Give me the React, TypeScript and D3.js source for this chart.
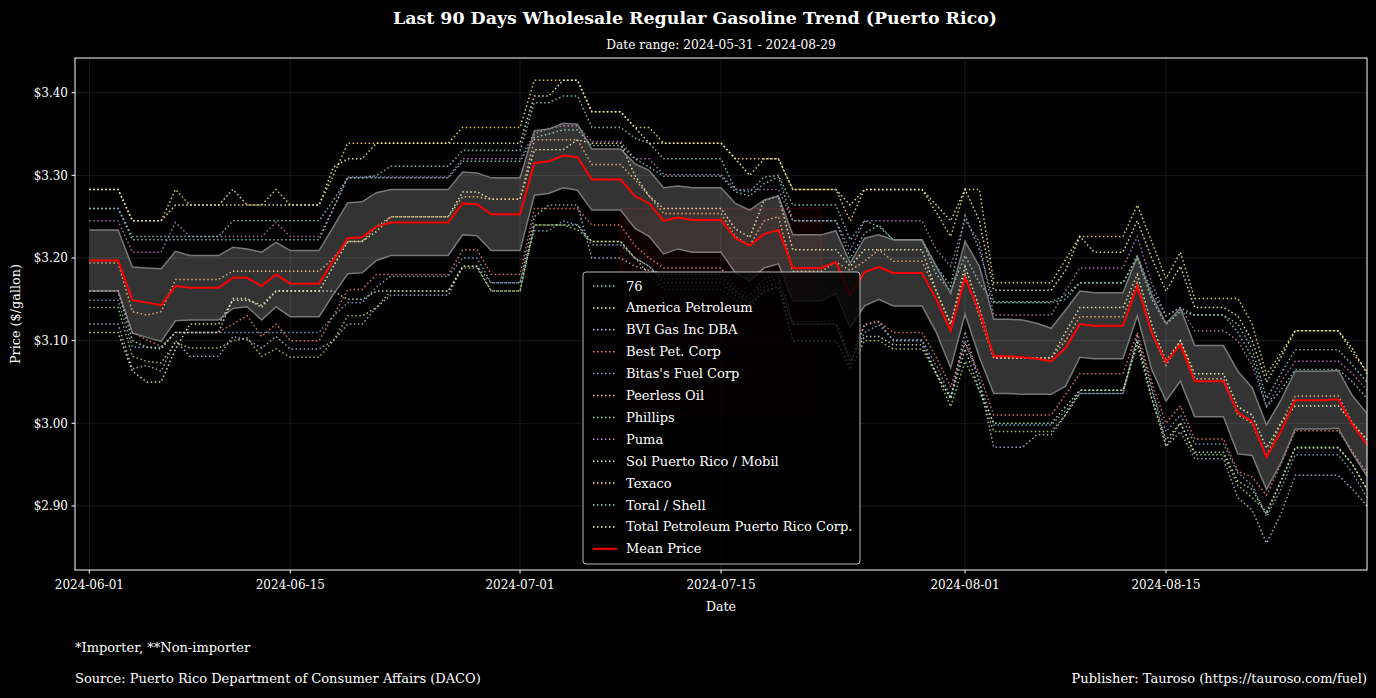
import * as d3 from 'd3';
import React from 'react';

// daily observations, 2024-06-01 .. 2024-08-29 (90 days)
const firstDay = '2024-06-01';
const endDay = '2024-08-30';
const xDomain = ['2024-05-31', '2024-08-29'];
const xTickLabels = ['2024-06-01', '2024-06-15', '2024-07-01', '2024-07-15', '2024-08-01', '2024-08-15'];
const yTicks = [2.9, 3.0, 3.1, 3.2, 3.3, 3.4];

// faint red box drawn behind the legend
const highlightDays = ['2024-07-08', '2024-07-22'];
const highlightPrices = [3.01, 3.26];

const stations = [
  '76',
  'America Petroleum',
  'BVI Gas Inc DBA',
  'Best Pet. Corp',
  "Bitas's Fuel Corp",
  'Peerless Oil',
  'Phillips',
  'Puma',
  'Sol Puerto Rico / Mobil',
  'Texaco',
  'Toral / Shell',
  'Total Petroleum Puerto Rico Corp.',
];

const palette = ['#8dd3c7', '#feffb3', '#bfbbd9', '#fa8174', '#81b1d2', '#fdb462', '#b3de69', '#bc82bd', '#ccebc4', '#ffed6f', '#8dd3c7', '#feffb3'];

const p76 = [
  3.260, 3.260, 3.260, 3.222, 3.222, 3.222, 3.222, 3.222, 3.222, 3.222, 3.222, 3.222, 3.222, 3.222, 3.222, 3.222, 3.222, 3.260, 3.297, 3.297, 3.300, 3.311, 3.311, 3.311, 3.311, 3.311, 3.330, 3.330, 3.330, 3.330,
  3.330, 3.388, 3.388, 3.396, 3.396, 3.358, 3.358, 3.358, 3.345, 3.339, 3.320, 3.320, 3.320, 3.320, 3.320, 3.283, 3.280, 3.298, 3.300, 3.264, 3.264, 3.264, 3.264, 3.222, 3.245, 3.238, 3.222, 3.222, 3.222, 3.190, 3.166,
  3.251, 3.210, 3.147, 3.147, 3.147, 3.147, 3.147, 3.155, 3.170, 3.170, 3.170, 3.170, 3.203, 3.160, 3.130, 3.140, 3.131, 3.131, 3.131, 3.120, 3.090, 3.030, 3.060, 3.089, 3.089, 3.089, 3.089, 3.070, 3.050,
];
const americaPetroleum = [
  3.110, 3.110, 3.110, 3.063, 3.050, 3.050, 3.090, 3.120, 3.120, 3.120, 3.149, 3.149, 3.143, 3.160, 3.160, 3.160, 3.160, 3.190, 3.220, 3.220, 3.232, 3.250, 3.250, 3.250, 3.250, 3.250, 3.280, 3.280, 3.271, 3.271,
  3.271, 3.331, 3.331, 3.331, 3.343, 3.339, 3.339, 3.339, 3.300, 3.275, 3.260, 3.260, 3.260, 3.260, 3.260, 3.235, 3.225, 3.270, 3.275, 3.210, 3.210, 3.210, 3.210, 3.190, 3.210, 3.210, 3.210, 3.210, 3.210, 3.160, 3.120,
  3.190, 3.140, 3.079, 3.079, 3.079, 3.079, 3.079, 3.110, 3.140, 3.140, 3.140, 3.140, 3.180, 3.120, 3.075, 3.100, 3.060, 3.060, 3.060, 3.020, 3.010, 2.970, 3.000, 3.021, 3.021, 3.021, 3.021, 3.000, 2.980,
];
const bviGas = [
  3.120, 3.120, 3.120, 3.066, 3.070, 3.063, 3.100, 3.081, 3.081, 3.081, 3.105, 3.101, 3.091, 3.105, 3.090, 3.090, 3.090, 3.100, 3.120, 3.120, 3.140, 3.155, 3.155, 3.155, 3.155, 3.155, 3.190, 3.190, 3.170, 3.170,
  3.170, 3.250, 3.264, 3.264, 3.264, 3.200, 3.200, 3.200, 3.190, 3.185, 3.180, 3.180, 3.180, 3.180, 3.180, 3.160, 3.145, 3.165, 3.170, 3.100, 3.100, 3.100, 3.100, 3.070, 3.120, 3.123, 3.100, 3.100, 3.100, 3.060, 3.030,
  3.111, 3.050, 2.971, 2.971, 2.971, 2.986, 2.986, 3.010, 3.036, 3.036, 3.036, 3.036, 3.105, 3.045, 2.972, 2.990, 2.957, 2.957, 2.957, 2.910, 2.895, 2.855, 2.890, 2.937, 2.937, 2.937, 2.937, 2.920, 2.900,
];
const bestPet = [
  3.160, 3.160, 3.160, 3.110, 3.101, 3.093, 3.110, 3.110, 3.110, 3.110, 3.120, 3.130, 3.105, 3.120, 3.100, 3.100, 3.100, 3.130, 3.162, 3.162, 3.180, 3.180, 3.180, 3.180, 3.180, 3.180, 3.210, 3.210, 3.180, 3.180,
  3.180, 3.260, 3.260, 3.260, 3.260, 3.240, 3.240, 3.240, 3.215, 3.200, 3.188, 3.188, 3.188, 3.188, 3.188, 3.165, 3.155, 3.175, 3.180, 3.123, 3.123, 3.123, 3.125, 3.080, 3.119, 3.123, 3.110, 3.110, 3.110, 3.080, 3.044,
  3.097, 3.060, 3.010, 3.010, 3.010, 3.010, 3.010, 3.035, 3.060, 3.060, 3.060, 3.060, 3.110, 3.050, 3.000, 3.021, 2.981, 2.981, 2.981, 2.942, 2.935, 2.913, 2.950, 2.991, 2.991, 2.991, 2.991, 2.965, 2.940,
];
const bitasFuel = [
  3.149, 3.149, 3.149, 3.092, 3.092, 3.092, 3.110, 3.110, 3.110, 3.110, 3.110, 3.110, 3.110, 3.110, 3.110, 3.110, 3.110, 3.130, 3.146, 3.146, 3.165, 3.178, 3.178, 3.178, 3.178, 3.178, 3.200, 3.200, 3.170, 3.170,
  3.170, 3.233, 3.233, 3.245, 3.240, 3.216, 3.216, 3.216, 3.200, 3.190, 3.175, 3.175, 3.175, 3.175, 3.175, 3.160, 3.150, 3.170, 3.175, 3.120, 3.120, 3.120, 3.120, 3.075, 3.110, 3.119, 3.101, 3.101, 3.101, 3.070, 3.032,
  3.100, 3.050, 2.998, 2.998, 2.998, 2.998, 2.998, 3.015, 3.036, 3.036, 3.036, 3.036, 3.100, 3.040, 2.990, 3.010, 2.975, 2.975, 2.975, 2.940, 2.925, 2.887, 2.920, 2.962, 2.962, 2.962, 2.962, 2.940, 2.910,
];
const peerlessOil = [
  3.194, 3.194, 3.194, 3.135, 3.131, 3.135, 3.174, 3.174, 3.174, 3.174, 3.184, 3.184, 3.184, 3.184, 3.184, 3.184, 3.184, 3.200, 3.220, 3.220, 3.238, 3.250, 3.250, 3.250, 3.250, 3.250, 3.274, 3.274, 3.271, 3.271,
  3.271, 3.343, 3.343, 3.343, 3.343, 3.313, 3.313, 3.313, 3.295, 3.275, 3.254, 3.254, 3.254, 3.254, 3.254, 3.226, 3.215, 3.245, 3.250, 3.184, 3.184, 3.184, 3.195, 3.185, 3.196, 3.210, 3.196, 3.196, 3.196, 3.160, 3.120,
  3.180, 3.130, 3.079, 3.079, 3.079, 3.079, 3.079, 3.100, 3.129, 3.129, 3.129, 3.129, 3.170, 3.110, 3.070, 3.100, 3.054, 3.054, 3.054, 3.010, 3.000, 2.960, 3.000, 3.033, 3.033, 3.033, 3.033, 3.000, 2.980,
];
const phillips = [
  3.140, 3.140, 3.140, 3.081, 3.075, 3.073, 3.098, 3.091, 3.091, 3.091, 3.100, 3.103, 3.081, 3.090, 3.080, 3.080, 3.080, 3.100, 3.130, 3.130, 3.140, 3.160, 3.160, 3.160, 3.160, 3.160, 3.188, 3.188, 3.160, 3.160,
  3.160, 3.240, 3.240, 3.240, 3.234, 3.220, 3.220, 3.220, 3.200, 3.180, 3.162, 3.162, 3.162, 3.162, 3.162, 3.150, 3.140, 3.160, 3.165, 3.100, 3.100, 3.100, 3.100, 3.065, 3.100, 3.100, 3.090, 3.090, 3.090, 3.060, 3.020,
  3.075, 3.040, 2.990, 2.990, 2.990, 2.990, 2.990, 3.010, 3.040, 3.040, 3.040, 3.040, 3.095, 3.030, 2.972, 3.001, 2.962, 2.962, 2.962, 2.925, 2.910, 2.893, 2.930, 2.971, 2.971, 2.971, 2.971, 2.950, 2.920,
];
const puma = [
  3.245, 3.245, 3.245, 3.207, 3.207, 3.207, 3.243, 3.226, 3.226, 3.226, 3.226, 3.226, 3.226, 3.243, 3.226, 3.226, 3.226, 3.260, 3.298, 3.298, 3.298, 3.298, 3.298, 3.298, 3.298, 3.298, 3.320, 3.320, 3.320, 3.320,
  3.320, 3.350, 3.357, 3.360, 3.360, 3.341, 3.341, 3.341, 3.320, 3.320, 3.301, 3.301, 3.301, 3.301, 3.301, 3.283, 3.283, 3.283, 3.283, 3.245, 3.245, 3.245, 3.245, 3.210, 3.245, 3.245, 3.245, 3.245, 3.245, 3.210, 3.190,
  3.246, 3.220, 3.131, 3.131, 3.131, 3.131, 3.131, 3.160, 3.188, 3.188, 3.188, 3.188, 3.226, 3.170, 3.130, 3.140, 3.112, 3.112, 3.112, 3.100, 3.070, 3.020, 3.050, 3.075, 3.075, 3.075, 3.075, 3.060, 3.040,
];
const solMobil = [
  3.160, 3.160, 3.160, 3.100, 3.092, 3.090, 3.110, 3.110, 3.110, 3.110, 3.151, 3.151, 3.140, 3.160, 3.160, 3.160, 3.160, 3.160, 3.150, 3.150, 3.160, 3.160, 3.160, 3.160, 3.160, 3.160, 3.190, 3.190, 3.160, 3.160,
  3.160, 3.240, 3.240, 3.240, 3.240, 3.220, 3.220, 3.220, 3.200, 3.190, 3.170, 3.170, 3.170, 3.170, 3.170, 3.155, 3.145, 3.160, 3.165, 3.120, 3.120, 3.120, 3.120, 3.075, 3.105, 3.105, 3.095, 3.095, 3.095, 3.060, 3.030,
  3.090, 3.040, 3.000, 3.000, 3.000, 3.000, 3.000, 3.020, 3.040, 3.040, 3.040, 3.040, 3.100, 3.030, 2.980, 3.000, 2.965, 2.965, 2.965, 2.930, 2.920, 2.890, 2.930, 2.970, 2.970, 2.970, 2.970, 2.950, 2.920,
];
const texaco = [
  3.283, 3.283, 3.283, 3.245, 3.245, 3.245, 3.283, 3.264, 3.264, 3.264, 3.264, 3.264, 3.264, 3.283, 3.264, 3.264, 3.264, 3.300, 3.339, 3.339, 3.339, 3.339, 3.339, 3.339, 3.339, 3.339, 3.358, 3.358, 3.358, 3.358,
  3.358, 3.415, 3.415, 3.415, 3.415, 3.377, 3.377, 3.377, 3.358, 3.358, 3.339, 3.339, 3.339, 3.339, 3.339, 3.320, 3.320, 3.320, 3.320, 3.283, 3.283, 3.283, 3.283, 3.245, 3.283, 3.283, 3.283, 3.283, 3.283, 3.255, 3.226,
  3.283, 3.283, 3.170, 3.170, 3.170, 3.170, 3.170, 3.198, 3.226, 3.226, 3.226, 3.226, 3.264, 3.220, 3.175, 3.207, 3.151, 3.151, 3.151, 3.151, 3.120, 3.059, 3.085, 3.112, 3.112, 3.112, 3.112, 3.085, 3.063,
];
const toralShell = [
  3.260, 3.260, 3.260, 3.226, 3.226, 3.226, 3.226, 3.226, 3.226, 3.226, 3.245, 3.245, 3.245, 3.245, 3.245, 3.245, 3.245, 3.270, 3.297, 3.297, 3.297, 3.297, 3.297, 3.297, 3.297, 3.297, 3.317, 3.317, 3.317, 3.317,
  3.317, 3.346, 3.350, 3.355, 3.355, 3.336, 3.336, 3.336, 3.320, 3.310, 3.299, 3.299, 3.299, 3.299, 3.299, 3.280, 3.275, 3.290, 3.298, 3.245, 3.245, 3.245, 3.245, 3.200, 3.230, 3.240, 3.222, 3.222, 3.222, 3.180, 3.160,
  3.203, 3.170, 3.146, 3.146, 3.146, 3.146, 3.146, 3.150, 3.170, 3.170, 3.170, 3.170, 3.200, 3.150, 3.120, 3.135, 3.131, 3.131, 3.131, 3.110, 3.080, 3.020, 3.040, 3.065, 3.065, 3.065, 3.065, 3.050, 3.030,
];
const totalPetroleum = [
  3.283, 3.283, 3.283, 3.245, 3.245, 3.245, 3.264, 3.264, 3.264, 3.264, 3.283, 3.264, 3.264, 3.264, 3.264, 3.264, 3.264, 3.310, 3.320, 3.320, 3.339, 3.339, 3.339, 3.339, 3.339, 3.339, 3.339, 3.339, 3.339, 3.339,
  3.339, 3.396, 3.396, 3.415, 3.415, 3.377, 3.377, 3.377, 3.358, 3.339, 3.339, 3.339, 3.339, 3.339, 3.339, 3.320, 3.300, 3.320, 3.320, 3.283, 3.283, 3.283, 3.283, 3.264, 3.283, 3.283, 3.283, 3.283, 3.283, 3.264, 3.245,
  3.283, 3.245, 3.161, 3.161, 3.161, 3.161, 3.161, 3.185, 3.226, 3.207, 3.207, 3.207, 3.245, 3.200, 3.160, 3.190, 3.140, 3.140, 3.140, 3.130, 3.100, 3.050, 3.080, 3.112, 3.112, 3.112, 3.112, 3.090, 3.060,
];

const stationPrices = [p76, americaPetroleum, bviGas, bestPet, bitasFuel, peerlessOil, phillips, puma, solMobil, texaco, toralShell, totalPetroleum];

// mean of all stations and half width of its 95% band
const meanPrice = [
  3.197, 3.197, 3.197, 3.149, 3.146, 3.143, 3.166, 3.164, 3.164, 3.164, 3.176, 3.176, 3.166, 3.180, 3.169, 3.169, 3.169, 3.197, 3.224, 3.225, 3.238, 3.243, 3.243, 3.243, 3.243, 3.243, 3.266, 3.265, 3.253, 3.253,
  3.253, 3.315, 3.317, 3.324, 3.322, 3.295, 3.295, 3.295, 3.275, 3.266, 3.245, 3.249, 3.246, 3.246, 3.246, 3.224, 3.215, 3.229, 3.234, 3.188, 3.188, 3.188, 3.195, 3.155, 3.183, 3.189, 3.182, 3.182, 3.182, 3.150, 3.112,
  3.176, 3.135, 3.081, 3.081, 3.080, 3.078, 3.075, 3.091, 3.120, 3.118, 3.118, 3.118, 3.166, 3.110, 3.074, 3.095, 3.051, 3.051, 3.051, 3.013, 3.002, 2.959, 2.990, 3.028, 3.028, 3.028, 3.029, 2.998, 2.974,
];
const meanBand = [
  0.037, 0.037, 0.037, 0.040, 0.042, 0.044, 0.042, 0.039, 0.039, 0.039, 0.037, 0.035, 0.041, 0.039, 0.040, 0.040, 0.040, 0.041, 0.043, 0.043, 0.041, 0.040, 0.040, 0.040, 0.040, 0.040, 0.038, 0.038, 0.044, 0.044,
  0.044, 0.039, 0.039, 0.039, 0.040, 0.037, 0.037, 0.037, 0.039, 0.040, 0.040, 0.038, 0.039, 0.039, 0.039, 0.042, 0.043, 0.041, 0.041, 0.040, 0.040, 0.040, 0.038, 0.039, 0.041, 0.039, 0.040, 0.040, 0.040, 0.040, 0.045,
  0.044, 0.055, 0.045, 0.045, 0.045, 0.043, 0.040, 0.046, 0.040, 0.040, 0.040, 0.040, 0.036, 0.045, 0.047, 0.044, 0.043, 0.043, 0.043, 0.050, 0.041, 0.039, 0.038, 0.035, 0.035, 0.035, 0.035, 0.035, 0.038,
];

const W = 1376;
const H = 698;
const plot = { left: 75, right: 1367, top: 58, bottom: 570 };
const font = "'DejaVu Serif', serif";

const parseDay = d3.utcParse('%Y-%m-%d');

const App = () => {
  const days = d3.utcDay.range(parseDay(firstDay) as Date, parseDay(endDay) as Date);

  const x = d3
    .scaleUtc()
    .domain(xDomain.map((d) => parseDay(d) as Date))
    .range([plot.left, plot.right]);
  const y = d3.scaleLinear().domain([2.8225, 3.442]).range([plot.bottom, plot.top]);

  const line = d3
    .line<number>()
    .x((_, i) => x(days[i]))
    .y((d) => y(d));

  const band = d3
    .area<number>()
    .x((_, i) => x(days[i]))
    .y0((d, i) => y(d - meanBand[i]))
    .y1((d, i) => y(d + meanBand[i]));

  const upper = meanPrice.map((d, i) => d + meanBand[i]);
  const lower = meanPrice.map((d, i) => d - meanBand[i]);

  const hx0 = x(parseDay(highlightDays[0]) as Date);
  const hx1 = x(parseDay(highlightDays[1]) as Date);
  const hy0 = y(highlightPrices[1]);
  const hy1 = y(highlightPrices[0]);

  const legendX = 583;
  const legendY = 272;
  const rowH = 21.9;

  return (
    <div style={{ position: 'absolute', left: 0, top: 0 }}>
      <svg width={W} height={H} style={{ display: 'block', background: '#000' }} fontFamily={font}>
        <rect x={0} y={0} width={W} height={H} fill="#000" />

        <text x={695} y={24} fill="#fff" fontSize={17.4} fontWeight="bold" textAnchor="middle">
          Last 90 Days Wholesale Regular Gasoline Trend (Puerto Rico)
        </text>
        <text x={721} y={49} fill="#fff" fontSize={12.2} textAnchor="middle">
          Date range: 2024-05-31 - 2024-08-29
        </text>

        {/* grid */}
        {yTicks.map((t) => (
          <line key={'gy' + t} x1={plot.left} x2={plot.right} y1={y(t)} y2={y(t)} stroke="#fff" strokeOpacity={0.12} strokeWidth={0.8} />
        ))}
        {xTickLabels.map((t) => (
          <line key={'gx' + t} x1={x(parseDay(t) as Date)} x2={x(parseDay(t) as Date)} y1={plot.top} y2={plot.bottom} stroke="#fff" strokeOpacity={0.12} strokeWidth={0.8} />
        ))}

        <rect x={hx0} y={hy0} width={hx1 - hx0} height={hy1 - hy0} fill="#ff0000" fillOpacity={0.05} stroke="#ff0000" strokeOpacity={0.12} strokeWidth={1.5} />

        {/* stations */}
        {stationPrices.map((s, i) => (
          <path key={stations[i]} d={line(s) ?? ''} fill="none" stroke={palette[i]} strokeWidth={1.5} strokeDasharray="1.5 2.5" strokeOpacity={0.85} />
        ))}

        {/* mean band */}
        <path d={band(meanPrice) ?? ''} fill="#fff" fillOpacity={0.2} stroke="none" />
        <path d={line(upper) ?? ''} fill="none" stroke="#888" strokeOpacity={0.85} strokeWidth={1.5} />
        <path d={line(lower) ?? ''} fill="none" stroke="#888" strokeOpacity={0.85} strokeWidth={1.5} />
        <path d={line(meanPrice) ?? ''} fill="none" stroke="#ff0000" strokeWidth={2} />

        {/* axes */}
        <rect x={plot.left} y={plot.top} width={plot.right - plot.left} height={plot.bottom - plot.top} fill="none" stroke="#fff" strokeWidth={1} />
        {yTicks.map((t) => (
          <g key={'yt' + t}>
            <line x1={plot.left - 3.5} x2={plot.left} y1={y(t)} y2={y(t)} stroke="#fff" />
            <text x={plot.left - 7} y={y(t)} dy="0.35em" fill="#fff" fontSize={12} textAnchor="end">
              {'$' + t.toFixed(2)}
            </text>
          </g>
        ))}
        {xTickLabels.map((t) => (
          <g key={'xt' + t}>
            <line x1={x(parseDay(t) as Date)} x2={x(parseDay(t) as Date)} y1={plot.bottom} y2={plot.bottom + 3.5} stroke="#fff" />
            <text x={x(parseDay(t) as Date)} y={plot.bottom + 19} fill="#fff" fontSize={12} textAnchor="middle">
              {t}
            </text>
          </g>
        ))}
        <text x={721} y={611} fill="#fff" fontSize={12.5} textAnchor="middle">
          Date
        </text>
        <text transform={`translate(20, ${(plot.top + plot.bottom) / 2}) rotate(-90)`} fill="#fff" fontSize={12.8} textAnchor="middle">
          Price ($/gallon)
        </text>

        {/* legend */}
        <rect x={legendX} y={legendY} width={277} height={292} rx={3} fill="#000" fillOpacity={0.8} stroke="#ccc" strokeOpacity={0.9} />
        {stations.map((name, i) => (
          <g key={'lg' + name}>
            <line x1={legendX + 10} x2={legendX + 34} y1={legendY + 14 + i * rowH} y2={legendY + 14 + i * rowH} stroke={palette[i]} strokeWidth={1.5} strokeDasharray="1.5 2.5" />
            <text x={legendX + 43} y={legendY + 14 + i * rowH} dy="0.35em" fill="#fff" fontSize={13}>
              {name}
            </text>
          </g>
        ))}
        <line x1={legendX + 10} x2={legendX + 34} y1={legendY + 14 + 12 * rowH} y2={legendY + 14 + 12 * rowH} stroke="#ff0000" strokeWidth={2} />
        <text x={legendX + 43} y={legendY + 14 + 12 * rowH} dy="0.35em" fill="#fff" fontSize={13}>
          Mean Price
        </text>

        {/* notes */}
        <text x={75} y={652} fill="#fff" fontSize={13}>
          *Importer, **Non-importer
        </text>
        <text x={75} y={683} fill="#fff" fontSize={13}>
          Source: Puerto Rico Department of Consumer Affairs (DACO)
        </text>
        <text x={1367} y={683} fill="#fff" fontSize={13} textAnchor="end">
          Publisher: Tauroso (https://tauroso.com/fuel)
        </text>
      </svg>
    </div>
  );
};

export default App;
